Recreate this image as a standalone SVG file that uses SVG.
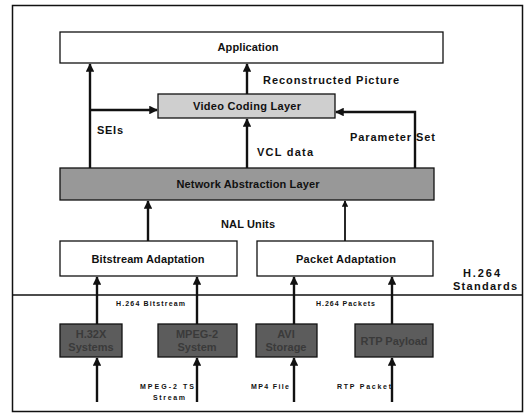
<svg xmlns="http://www.w3.org/2000/svg" width="529" height="414" viewBox="0 0 529 414">
<style>
.box{stroke:#111;stroke-width:1.3}
.w{fill:#fff}
.vcl{fill:#cfcfcf}
.nal{fill:#989898}
.dk{fill:#5c5c5c}
.t{font-family:"Liberation Sans",Arial,sans-serif;font-weight:bold;fill:#111}
.m{font-size:11px;text-anchor:middle}
.s{font-size:11px}
.x{font-size:7px}
.d{font-size:11px;text-anchor:middle;fill:#3a3a3a}
.c{stroke:#111;stroke-width:2.4;fill:none}
</style>
<defs>
<marker id="ah" viewBox="0 0 10 10" refX="9" refY="5" markerWidth="3.6" markerHeight="3.6" orient="auto" markerUnits="strokeWidth">
<path d="M0,0 L10,5 L0,10 Z" fill="#111"/>
</marker>
</defs>
<rect x="12.5" y="5.5" width="510" height="406" fill="#fff" stroke="#111" stroke-width="1.5"/>
<line x1="12" y1="295" x2="522" y2="295" stroke="#111" stroke-width="1.3"/>
<g id="application"><rect class="box w" x="60" y="32" width="383" height="31"/><text class="t m" x="248" y="51" textLength="61">Application</text></g>
<g id="vcl"><rect class="box vcl" x="158" y="94" width="177" height="24"/><text class="t m" x="247" y="110" textLength="108">Video Coding Layer</text></g>
<g id="nal"><rect class="box nal" x="60" y="168" width="374" height="32"/><text class="t m" x="248" y="188" textLength="143">Network Abstraction Layer</text></g>
<g id="bitstream"><rect class="box w" x="60" y="241" width="177" height="35"/><text class="t m" x="148" y="263" textLength="113">Bitstream Adaptation</text></g>
<g id="packet"><rect class="box w" x="257" y="241" width="176" height="35"/><text class="t m" x="346" y="263" textLength="100">Packet Adaptation</text></g>
<g id="h32x"><rect class="box dk" x="60" y="324" width="62" height="33"/><text class="t d" x="91" y="338">H.32X</text><text class="t d" x="91" y="351">Systems</text></g>
<g id="mpeg2"><rect class="box dk" x="158" y="324" width="79" height="33"/><text class="t d" x="197" y="338">MPEG-2</text><text class="t d" x="197" y="351">System</text></g>
<g id="storage"><rect class="box dk" x="256" y="324" width="61" height="33"/><text class="t d" x="286" y="338">AVI</text><text class="t d" x="286" y="351">Storage</text></g>
<g id="rtp"><rect class="box dk" x="355" y="324" width="78" height="33"/><text class="t d" x="394" y="345">RTP Payload</text></g>
<g id="connectors">
<line class="c" x1="247" y1="94" x2="247" y2="64" marker-end="url(#ah)"/>
<line class="c" x1="90" y1="168" x2="90" y2="64" marker-end="url(#ah)"/>
<line class="c" x1="90" y1="110" x2="157" y2="110" marker-end="url(#ah)"/>
<polyline class="c" points="415,168 415,112 336,112" marker-end="url(#ah)"/>
<line class="c" x1="247" y1="168" x2="247" y2="119" marker-end="url(#ah)"/>
<line class="c" x1="148" y1="241" x2="148" y2="201" marker-end="url(#ah)"/>
<line class="c" x1="345" y1="241" x2="345" y2="201" marker-end="url(#ah)" style="stroke-width:1.8"/>
<line class="c" x1="97" y1="324" x2="97" y2="277" marker-end="url(#ah)"/>
<line class="c" x1="197" y1="324" x2="197" y2="277" marker-end="url(#ah)"/>
<line class="c" x1="294" y1="324" x2="294" y2="277" marker-end="url(#ah)"/>
<line class="c" x1="392" y1="324" x2="392" y2="277" marker-end="url(#ah)"/>
<line class="c" x1="97" y1="402" x2="97" y2="358" marker-end="url(#ah)"/>
<line class="c" x1="197" y1="402" x2="197" y2="358" marker-end="url(#ah)"/>
<line class="c" x1="294" y1="402" x2="294" y2="358" marker-end="url(#ah)"/>
<line class="c" x1="392" y1="402" x2="392" y2="358" marker-end="url(#ah)"/>
</g>
<g id="labels">
<text class="t s" x="263" y="84" textLength="136">Reconstructed Picture</text>
<text class="t s" x="97" y="134" textLength="26">SEIs</text>
<text class="t s" x="350" y="141" textLength="85">Parameter Set</text>
<text class="t s" x="257" y="156" textLength="56">VCL data</text>
<text class="t m" x="248" y="228" textLength="54">NAL Units</text>
<text class="t s" x="463" y="277" textLength="37">H.264</text>
<text class="t s" x="453" y="290" textLength="64">Standards</text>
<text class="t x" x="116" y="306" textLength="69">H.264 Bitstream</text>
<text class="t x" x="316" y="306" textLength="59">H.264 Packets</text>
<text class="t x" x="140" y="389" font-size="8" textLength="54">MPEG-2 TS</text>
<text class="t x" x="153" y="400" font-size="8" textLength="32">Stream</text>
<text class="t x" x="251" y="389" font-size="8" textLength="38">MP4 File</text>
<text class="t x" x="337" y="389" font-size="8" textLength="54">RTP Packet</text>
</g>
</svg>
